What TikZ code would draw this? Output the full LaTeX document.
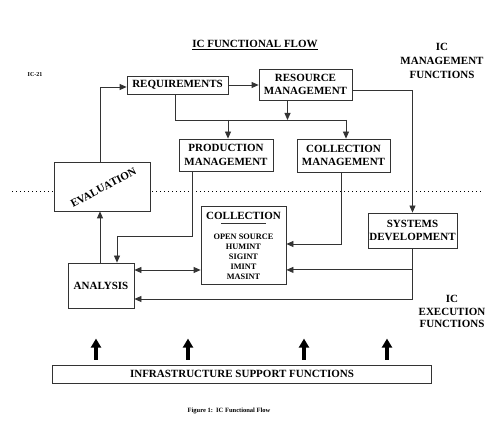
\documentclass[tikz,border=0pt]{standalone}
\usepackage{fontspec}
\setmainfont{Liberation Serif}
\usetikzlibrary{arrows.meta}
\begin{document}
\begin{tikzpicture}[x=1pt,y=-1pt,
  box/.style={draw=black!80, line width=0.8pt, fill=white, inner sep=0pt, align=center, font=\fontsize{11}{13.5}\selectfont\bfseries},
  arr/.style={draw=black!80, line width=0.8pt, -{Triangle[length=7pt,width=6pt]}},
  dbl/.style={draw=black!80, line width=0.8pt, {Triangle[length=7pt,width=6pt]}-{Triangle[length=7pt,width=6pt]}},
  ln/.style={draw=black!80, line width=0.8pt},
  big/.style={line width=4pt, -{Triangle[length=9pt,width=10pt]}},
  lbl/.style={align=center, inner sep=0pt, font=\fontsize{11}{14}\selectfont\bfseries},
  sepline/.style={line width=1pt, dash pattern=on 1.2pt off 2.8pt}]
\useasboundingbox (0,0) rectangle (500,427);
% title and side labels
\node[lbl] (title) at (255,45) {\underline{IC FUNCTIONAL FLOW}};
\node[inner sep=0pt, font=\fontsize{6}{7}\selectfont\bfseries] (ic21) at (35,75) {IC-21};
\node[lbl] (mgmt) at (442,61) {IC\\MANAGEMENT\\FUNCTIONS};
\node[lbl, font=\fontsize{11}{12.5}\selectfont\bfseries] (exec) at (452,311.5) {IC\\EXECUTION\\FUNCTIONS};
% dotted separator
\coordinate (dl) at (12,192);
\coordinate (dr) at (482,192);
\draw[sepline] (dl) -- (dr);
% boxes
\node[box, minimum width=101pt, minimum height=18pt] (req) at (177.5,85) {REQUIREMENTS};
\node[box, minimum width=93pt, minimum height=31pt] (res) at (305.5,84.5) {RESOURCE\\MANAGEMENT};
\node[box, minimum width=94pt, minimum height=32pt] (prod) at (226,155) {PRODUCTION\\MANAGEMENT};
\node[box, minimum width=93pt, minimum height=33pt] (colm) at (343.5,155.5) {COLLECTION\\MANAGEMENT};
\node[box, minimum width=96pt, minimum height=49pt] (eval) at (102,186.5) {};
\node[lbl, rotate=28] (evt) at (103.5,187.5) {EVALUATION};
\node[box, minimum width=66pt, minimum height=45pt] (ana) at (101,285.5) {ANALYSIS};
\node[box, minimum width=85pt, minimum height=78pt] (coll) at (243.5,245) {};
\node[lbl] (colt) at (243.5,215.5) {COLLECTION};
\draw[ln] ([shift={(-22.5,17.5)}]coll.north) -- ++(45,0);
\node[lbl, font=\fontsize{8.3}{10.1}\selectfont\bfseries] (coli) at (243.5,257) {OPEN SOURCE\\HUMINT\\SIGINT\\IMINT\\MASINT};
\node[box, minimum width=89pt, minimum height=35pt] (sys) at (412.5,230.5) {SYSTEMS\\DEVELOPMENT};
\node[box, minimum width=379pt, minimum height=18pt] (infra) at (242,374) {INFRASTRUCTURE SUPPORT FUNCTIONS};
% caption
\node[inner sep=0pt, font=\fontsize{6.5}{8}\selectfont\bfseries] (cap) at (229,410.5) {Figure 1:\ \ IC Functional Flow};
% connectors
\coordinate (bus) at (0,120);
\draw[arr] ([xshift=-2pt]eval.north) |- ([yshift=-2pt]req.west);
\draw[arr] (req.east) -- (req.east -| res.west);
\draw[ln] ([xshift=-2.5pt]req.south) |- ([xshift=2.5pt]colm.north |- bus);
\draw[arr] ([xshift=2.5pt]colm.north |- bus) -- ([xshift=2.5pt]colm.north);
\draw[arr] ([xshift=2pt]prod.north |- bus) -- ([xshift=2pt]prod.north);
\draw[arr] ([xshift=-18pt]res.south) -- ([xshift=-18pt]res.south |- bus);
\draw[arr] ([yshift=-6pt]res.east) -| (sys.north);
\coordinate (pk) at (0,236);
\draw[ln] ([xshift=-34pt]prod.south) |- ([xshift=16pt]ana.north |- pk);
\draw[arr] ([xshift=16pt]ana.north |- pk) -- ([xshift=16pt]ana.north);
\draw[arr] ([xshift=-1pt]ana.north) -- ([xshift=-1pt]ana.north |- eval.south);
\draw[dbl] ([yshift=15.5pt]ana.east) -- ([yshift=15.5pt]ana.east -| coll.west);
\draw[arr] ([xshift=-2pt]colm.south) |- ([yshift=1pt]coll.east);
\draw[arr] (sys.south) |- ([yshift=-13.5pt]ana.east);
\path (sys.south) ++(0,21.5) coordinate (sb);
\draw[arr] (sb) -- (sb -| coll.east);
% support arrows
\draw[big] ([shift={(-146,-5)}]infra.north) -- ++(0,-21);
\draw[big] ([shift={(-54,-5)}]infra.north) -- ++(0,-21);
\draw[big] ([shift={(62,-5)}]infra.north) -- ++(0,-21);
\draw[big] ([shift={(145,-5)}]infra.north) -- ++(0,-21);
\end{tikzpicture}
\end{document}
